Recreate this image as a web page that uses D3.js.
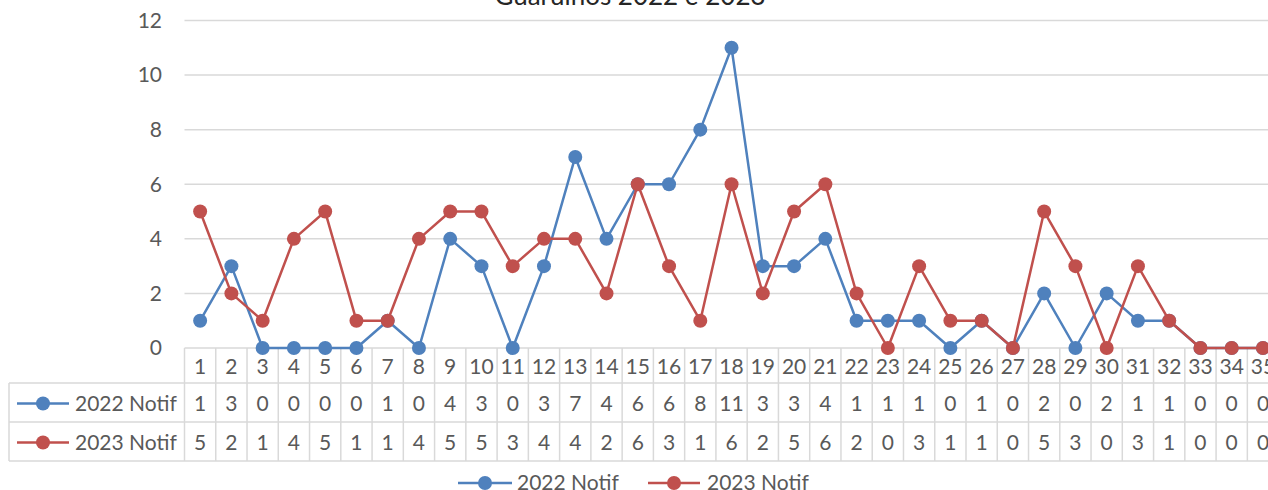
<!DOCTYPE html>
<html>
<head>
<meta charset="utf-8">
<script src="https://cdn.jsdelivr.net/npm/d3@7"></script>
<style>
  body { margin: 0; background: #fff; }
  svg { display: block; font-family: Lato, "Open Sans", sans-serif; }
</style>
</head>
<body>
<svg id="chart" width="1268" height="490"></svg>
<script>
const chartTitle = "Guarulhos 2022 e 2023";
const weeks = d3.range(1, 36).map(String);
const notif2022 = [1,3,0,0,0,0,1,0,4,3,0,3,7,4,6,6,8,11,3,3,4,1,1,1,0,1,0,2,0,2,1,1,0,0,0];
const notif2023 = [5,2,1,4,5,1,1,4,5,5,3,4,4,2,6,3,1,6,2,5,6,2,0,3,1,1,0,5,3,0,3,1,0,0,0];
const seriesNames = ["2022 Notif", "2023 Notif"];
const seriesColors = ["#4f81bd", "#c0504d"];
const yTicks = [0, 2, 4, 6, 8, 10, 12];

const svg = d3.select('#chart');
const plotLeft = 184.5, band = 31.26;
const plotTop = 20.5, plotBottom = 348;
const rowY = [348, 383, 422, 461];
const tableLeft = 9;
const gridColor = "#d9d9d9", textColor = "#595959";
const fs = 21;

const x = d3.scaleBand().domain(weeks).range([plotLeft, plotLeft + band * weeks.length]);
const y = d3.scaleLinear().domain([0, 12]).range([plotBottom, plotTop]);
const plotRight = x.range()[1];

// title (cut off at top like the original)
svg.append("text").attr("x", 630).attr("y", 5).attr("text-anchor", "middle")
  .attr("font-size", 26).attr("fill", "#262626").text(chartTitle);

// gridlines + y labels
yTicks.forEach(function(t){
  svg.append("line").attr("x1", plotLeft).attr("x2", plotRight)
    .attr("y1", y(t)).attr("y2", y(t))
    .attr("stroke", gridColor).attr("stroke-width", 1.5);
  svg.append("text").attr("x", 162).attr("y", y(t)).attr("dy", "0.35em")
    .attr("text-anchor", "end").attr("font-size", fs).attr("fill", textColor).text(t);
});

// data table grid
const table = svg.append("g");
weeks.forEach(function(w){
  table.append("line").attr("x1", x(w)).attr("x2", x(w))
    .attr("y1", rowY[0]).attr("y2", rowY[3])
    .attr("stroke", gridColor).attr("stroke-width", 1.5);
});
table.append("line").attr("x1", tableLeft).attr("x2", tableLeft)
  .attr("y1", rowY[1]).attr("y2", rowY[3]).attr("stroke", gridColor).attr("stroke-width", 1.5);
[rowY[1], rowY[2], rowY[3]].forEach(function(ry){
  table.append("line").attr("x1", tableLeft).attr("x2", plotRight)
    .attr("y1", ry).attr("y2", ry).attr("stroke", gridColor).attr("stroke-width", 1.5);
});

// header row (categories)
weeks.forEach(function(w){
  table.append("text").attr("x", x(w) + band / 2).attr("y", (rowY[0] + rowY[1]) / 2 + 1)
    .attr("dy", "0.35em").attr("text-anchor", "middle")
    .attr("font-size", fs).attr("fill", textColor).text(w);
});

const allSeries = [notif2022, notif2023];

// value rows with legend keys
allSeries.forEach(function(vals, si){
  const cy = (rowY[si + 1] + rowY[si + 2]) / 2 + 1;
  table.append("line").attr("x1", 17).attr("x2", 69).attr("y1", cy).attr("y2", cy)
    .attr("stroke", seriesColors[si]).attr("stroke-width", 2.5);
  table.append("circle").attr("cx", 43).attr("cy", cy).attr("r", 7).attr("fill", seriesColors[si]);
  table.append("text").attr("x", 75).attr("y", cy).attr("dy", "0.35em")
    .attr("font-size", fs).attr("fill", textColor).text(seriesNames[si]);
  vals.forEach(function(v, i){
    table.append("text").attr("x", x(weeks[i]) + band / 2).attr("y", cy)
      .attr("dy", "0.35em").attr("text-anchor", "middle")
      .attr("font-size", fs).attr("fill", textColor).text(v);
  });
});

// series lines + markers
const line = d3.line()
  .x(function(d, i){ return x(weeks[i]) + band / 2; })
  .y(function(d){ return y(d); });

allSeries.forEach(function(vals, si){
  const g = svg.append("g");
  g.append("path").datum(vals).attr("d", line)
    .attr("fill", "none").attr("stroke", seriesColors[si]).attr("stroke-width", 2.5)
    .attr("stroke-linejoin", "round");
  g.selectAll("circle").data(vals).enter().append("circle")
    .attr("cx", function(d, i){ return x(weeks[i]) + band / 2; })
    .attr("cy", function(d){ return y(d); })
    .attr("r", 7).attr("fill", seriesColors[si]);
});

// bottom legend
const legendItems = [{x1: 458, x2: 512, text: 517}, {x1: 648, x2: 700, text: 707}];
legendItems.forEach(function(l, si){
  const ly = 483;
  svg.append("line").attr("x1", l.x1).attr("x2", l.x2).attr("y1", ly).attr("y2", ly)
    .attr("stroke", seriesColors[si]).attr("stroke-width", 2.5);
  svg.append("circle").attr("cx", (l.x1 + l.x2) / 2).attr("cy", ly).attr("r", 7).attr("fill", seriesColors[si]);
  svg.append("text").attr("x", l.text).attr("y", ly).attr("dy", "0.35em")
    .attr("font-size", fs).attr("fill", textColor).text(seriesNames[si]);
});
</script>
</body>
</html>
